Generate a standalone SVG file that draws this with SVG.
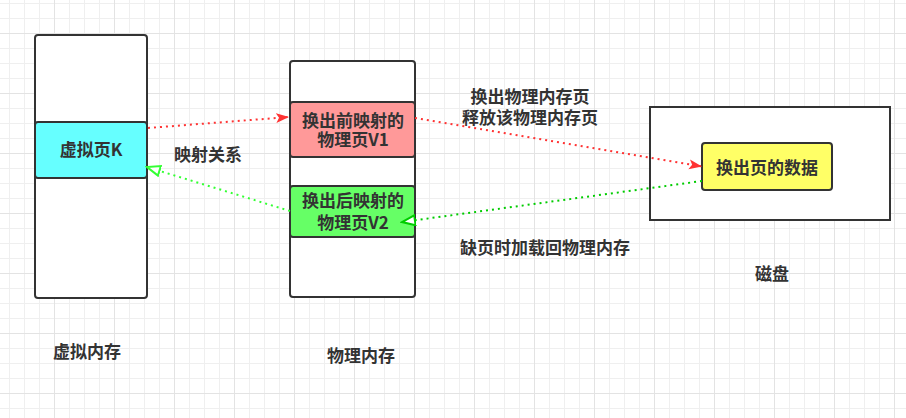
<svg xmlns="http://www.w3.org/2000/svg" width="906" height="418" viewBox="0 0 906 418">
<style>
.t{font-family:"Noto Sans CJK SC","Microsoft YaHei",sans-serif;font-size:17px;font-weight:bold;fill:#333;text-anchor:middle}
.box{stroke:#333;stroke-width:2}
.dot{fill:none;stroke-width:2;stroke-dasharray:2 4}
</style>
<defs>
<pattern id="gmin" width="15" height="15" patternUnits="userSpaceOnUse" x="9" y="3">
<path d="M0 0.5H15M0.5 0V15" stroke="#efefef" stroke-width="1" fill="none"/>
</pattern>
<pattern id="gmaj" width="60" height="60" patternUnits="userSpaceOnUse" x="54" y="33">
<path d="M0 0.5H60M0.5 0V60" stroke="#e3e3e3" stroke-width="1" fill="none"/>
</pattern>
<marker id="redArrow" markerUnits="userSpaceOnUse" markerWidth="14" markerHeight="12" refX="13" refY="5" orient="auto">
<path d="M0 0L13 5L0 10L3 5z" fill="#ff3333"/>
</marker>
<marker id="greenOpen1" markerUnits="userSpaceOnUse" markerWidth="16" markerHeight="14" refX="14" refY="6" orient="auto">
<path d="M1 1L14 6L1 11z" fill="#fff" stroke="#33ff33" stroke-width="2"/>
</marker>
<marker id="greenOpen2" markerUnits="userSpaceOnUse" markerWidth="16" markerHeight="14" refX="14" refY="6" orient="auto">
<path d="M1 1L14 6L1 11z" fill="#fff" stroke="#00cc00" stroke-width="2"/>
</marker>
</defs>
<rect width="906" height="418" fill="#fff"/>
<rect width="906" height="418" fill="url(#gmin)"/>
<rect width="906" height="418" fill="url(#gmaj)"/>

<g id="virtual-memory">
<rect class="box" x="35" y="35" width="112" height="263" rx="3" fill="#fff"/>
</g>
<g id="virtual-page-k">
<rect class="box" x="35" y="122" width="112" height="56" rx="3" fill="#66ffff"/>
<text class="t" x="91" y="156">虚拟页K</text>
</g>
<g id="physical-memory">
<rect class="box" x="290" y="61" width="125" height="236" rx="3" fill="#fff"/>
</g>
<g id="page-v1">
<rect class="box" x="290" y="102" width="125" height="55" rx="3" fill="#ff9999"/>
<text class="t" x="353" y="126.5">换出前映射的</text>
<text class="t" x="353" y="146">物理页V1</text>
</g>
<g id="page-v2">
<rect class="box" x="290" y="186" width="125" height="51" rx="3" fill="#66ff66"/>
<text class="t" x="353" y="207">换出后映射的</text>
<text class="t" x="353" y="228.5">物理页V2</text>
</g>
<g id="disk">
<rect class="box" x="650" y="107" width="240" height="113" fill="#fff"/>
</g>
<g id="swapped-data">
<rect class="box" x="702" y="143" width="130" height="47" rx="3" fill="#ffff66"/>
<text class="t" x="767" y="173.5">换出页的数据</text>
</g>

<g id="connectors">
<path class="dot" d="M148 128L289 117" stroke="#ff3333" marker-end="url(#redArrow)"/>
<path class="dot" d="M415 118L702 166.5" stroke="#ff3333" marker-end="url(#redArrow)"/>
<path class="dot" d="M290 211L147 167" stroke="#33ff33" marker-end="url(#greenOpen1)"/>
<path class="dot" d="M702 181L402 222" stroke="#00cc00" marker-end="url(#greenOpen2)"/>
</g>

<g id="labels">
<text class="t" x="208" y="161">映射关系</text>
<text class="t" x="530" y="102.5">换出物理内存页</text>
<text class="t" x="530" y="124">释放该物理内存页</text>
<text class="t" x="545" y="254">缺页时加载回物理内存</text>
<text class="t" x="772" y="280">磁盘</text>
<text class="t" x="87" y="357.5">虚拟内存</text>
<text class="t" x="361" y="362">物理内存</text>
</g>
</svg>
